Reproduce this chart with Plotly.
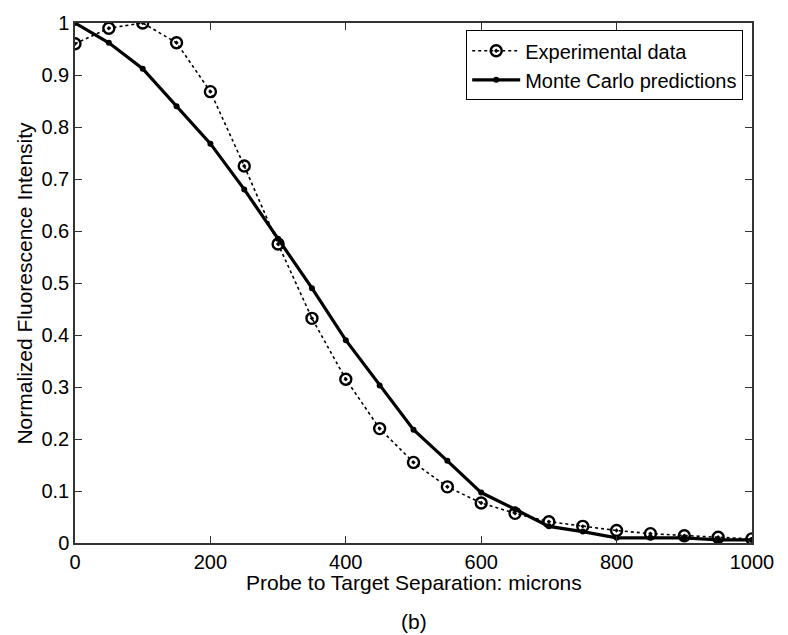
import plotly.graph_objects as go

separation = [0, 50, 100, 150, 200, 250, 300, 350, 400, 450, 500,
              550, 600, 650, 700, 750, 800, 850, 900, 950, 1000]
experimental = [0.960, 0.990, 1.000, 0.962, 0.868, 0.725, 0.575, 0.432, 0.315, 0.220, 0.155,
                0.108, 0.077, 0.057, 0.041, 0.032, 0.024, 0.018, 0.014, 0.011, 0.008]
monte_carlo = [1.000, 0.962, 0.912, 0.840, 0.768, 0.680, 0.585, 0.490, 0.390, 0.303, 0.218,
               0.158, 0.097, 0.065, 0.032, 0.022, 0.010, 0.010, 0.010, 0.006, 0.006]

x_ticks = [0, 200, 400, 600, 800, 1000]
y_ticks = [0, 0.1, 0.2, 0.3, 0.4, 0.5, 0.6, 0.7, 0.8, 0.9, 1]
y_ticklabels = ["0", "0.1", "0.2", "0.3", "0.4", "0.5", "0.6", "0.7", "0.8", "0.9", "1"]

FONT = "Liberation Sans, Arial, sans-serif"

fig = go.Figure()
fig.add_trace(go.Scatter(
    x=separation, y=experimental, name="Experimental data",
    mode="lines+markers",
    line=dict(color="black", width=1.6, dash="dot"),
    marker=dict(symbol="circle-open-dot", size=11, color="black", line=dict(width=2.4, color="black")),
))
fig.add_trace(go.Scatter(
    x=separation, y=monte_carlo, name="Monte Carlo predictions",
    mode="lines+markers",
    line=dict(color="black", width=3.2),
    marker=dict(symbol="circle", size=6, color="black"),
))

axis_common = dict(
    showgrid=False, zeroline=False, showline=True, linecolor="#333", linewidth=1.5,
    mirror="ticks", ticks="inside", ticklen=7, tickwidth=1.2, tickcolor="#333",
    tickfont=dict(family=FONT, size=20, color="black"),
)

fig.update_layout(
    width=788, height=635,
    margin=dict(l=75, r=36, t=17, b=92),
    paper_bgcolor="white", plot_bgcolor="white",
    showlegend=True,
    legend=dict(
        x=0.987, y=0.986, xanchor="right", yanchor="top",
        bgcolor="white", bordercolor="black", borderwidth=1,
        font=dict(family=FONT, size=20, color="black"),
        tracegroupgap=0, itemwidth=48,
    ),
    xaxis=dict(range=[0, 1000], tickvals=x_ticks, **axis_common),
    yaxis=dict(range=[0, 1], tickvals=y_ticks, ticktext=y_ticklabels, **axis_common),
    annotations=[
        dict(text="Probe to Target Separation: microns", xref="paper", yref="paper",
             x=0.5, y=-0.075, xanchor="center", yanchor="middle", showarrow=False,
             font=dict(family=FONT, size=21, color="black")),
        dict(text="Normalized Fluorescence Intensity", xref="paper", yref="paper",
             x=-0.076, y=0.5, xanchor="center", yanchor="middle", showarrow=False,
             textangle=-90, font=dict(family=FONT, size=21, color="black")),
        dict(text="(b)", xref="paper", yref="paper",
             x=0.5, y=-0.151, xanchor="center", yanchor="middle", showarrow=False,
             font=dict(family=FONT, size=21, color="black")),
    ],
)

fig.write_html("out.html")
